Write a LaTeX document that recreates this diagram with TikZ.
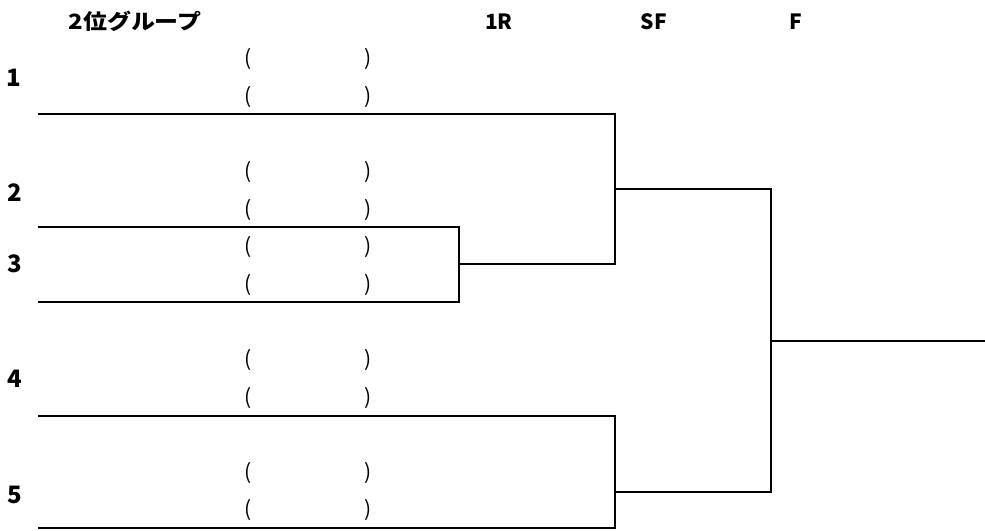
\documentclass[tikz,border=0pt]{standalone}
\usepackage{fontspec}
\newfontfamily\jpb{Noto Sans CJK JP}
\newfontfamily\jpw{Noto Sans CJK JP}[FakeStretch=1.14]
\newfontfamily\jpr{Noto Sans CJK JP}
\begin{document}
\begin{tikzpicture}[x=1pt,y=-1pt,
  bline/.style={line width=2pt,line join=miter,line cap=rect},
  head/.style={inner sep=0pt,anchor=base,font=\jpb\bfseries\fontsize{21}{21}\selectfont},
  jhead/.style={inner sep=0pt,anchor=base,font=\jpw\bfseries\fontsize{21}{21}\selectfont},
  num/.style={inner sep=0pt,font=\jpb\bfseries\fontsize{24}{24}\selectfont},
  par/.style={inner sep=0pt,font=\jpr\fontsize{21}{21}\selectfont}]
\useasboundingbox (0,0) rectangle (985,530);
% headers
\node[jhead] (h0) at (135,29) {2位グループ};
\node[head] (h1) at (499,29) {1R};
\node[head] (h2) at (654,29) {SF};
\node[head] (h3) at (796,29) {F};
% seed numbers
\node[num] (n1) at (14,78) {1};
\node[num] (n2) at (15,193) {2};
\node[num] (n3) at (15,264) {3};
\node[num] (n4) at (15,379) {4};
\node[num] (n5) at (15,495) {5};
% parentheses
\foreach \y [count=\i] in {59,97,172,210,247,285,360,398,473,510}{
  \node[par] (pl\i) at (248,\y) {(};
  \node[par] (pr\i) at (368,\y) {)};
}
% bracket points
\coordinate (L1) at (39,114);
\coordinate (R1) at (615,114);
\coordinate (L2) at (39,227);
\coordinate (Q2) at (459,227);
\coordinate (L3) at (39,302);
\coordinate (Q3) at (459,302);
\coordinate (Q23) at (459,264);
\coordinate (R23) at (615,264);
\coordinate (S1) at (615,189);
\coordinate (S1R) at (771,189);
\coordinate (L4) at (39,416);
\coordinate (R4) at (615,416);
\coordinate (L5) at (39,528);
\coordinate (R5) at (615,528);
\coordinate (R45) at (615,492);
\coordinate (S2R) at (771,492);
\coordinate (FM) at (771,341);
\coordinate (FE) at (985,341);
% connectors
\draw[bline] (L1) -- (R1) -- (R23) -- (Q23);
\draw[bline] (L2) -- (Q2) -- (Q3) -- (L3);
\draw[bline] (S1) -- (S1R) -- (S2R) -- (R45);
\draw[bline] (L4) -- (R4) -- (R5) -- (L5);
\draw[bline] (FM) -- (FE);
\end{tikzpicture}
\end{document}
